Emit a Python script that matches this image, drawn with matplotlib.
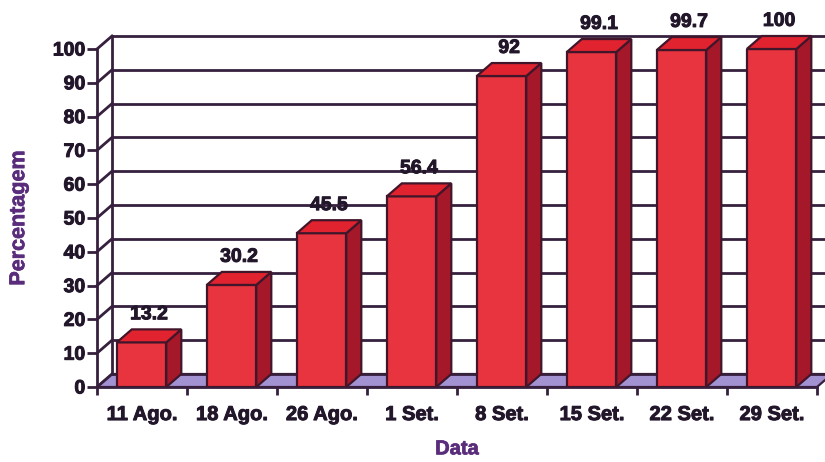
import matplotlib
matplotlib.use("Agg")
import matplotlib.pyplot as plt
from matplotlib.patches import Polygon
import matplotlib.patheffects as pe
import numpy as np

# ---- data ----
categories = ["11 Ago.", "18 Ago.", "26 Ago.", "1 Set.", "8 Set.", "15 Set.", "22 Set.", "29 Set."]
values = [13.2, 30.2, 45.5, 56.4, 92, 99.1, 99.7, 100]
value_labels = ["13.2", "30.2", "45.5", "56.4", "92", "99.1", "99.7", "100"]
yticks = list(range(0, 101, 10))

# ---- style ----
FONT = "Liberation Sans"
TXT = "#22162a"
LINE = "#36203e"
PURPLE = "#5a2d7c"
FRONT = "#e8343f"
SIDE = "#a5182a"
TOP = "#e0232e"
EDGE = "#42162a"
FLOOR = "#a292d2"
DX = 15 / 90.0      # depth offset in category units
DY = 13 / 3.38      # depth offset in value units
BAR_L, BAR_W = 0.22, 0.55
THICK = [pe.withStroke(linewidth=0.7, foreground=TXT)]
THICK_P = [pe.withStroke(linewidth=0.5, foreground=PURPLE)]

fig = plt.figure(figsize=(8.25, 4.62), dpi=100)
fig.patch.set_facecolor("white")
ax = fig.add_axes([97 / 825, (462 - 387) / 462, 720 / 825, 338 / 462])
ax.set_facecolor("none")
n = len(categories)
ax.set_xlim(0, n)
ax.set_ylim(0, 100)

# floor
ax.add_patch(Polygon([(0, 0), (n, 0), (n + DX, DY), (DX, DY)], closed=True,
                     facecolor=FLOOR, edgecolor=LINE, lw=1.6, zorder=1, clip_on=False))

# back wall gridlines and left wall diagonals
for t in yticks:
    ax.plot([DX, n + DX], [t + DY, t + DY], color=LINE, lw=2.0, zorder=1.5, clip_on=False,
            solid_capstyle="butt")
    ax.plot([0, DX], [t, t + DY], color=LINE, lw=2.0, zorder=1.5, clip_on=False)
ax.plot([DX, DX], [DY, 100 + DY], color=LINE, lw=2.0, zorder=1.5, clip_on=False)

# bars
xs = np.arange(n) + BAR_L + BAR_W / 2
ax.bar(xs, values, width=BAR_W, color=FRONT, edgecolor=EDGE, linewidth=1.6, zorder=3)
for i, v in enumerate(values):
    x0 = i + BAR_L
    x1 = x0 + BAR_W
    ax.add_patch(Polygon([(x1, 0), (x1 + DX, DY), (x1 + DX, v + DY), (x1, v)], closed=True,
                         facecolor=SIDE, edgecolor=EDGE, lw=1.6, zorder=3, clip_on=False))
    ax.add_patch(Polygon([(x0, v), (x1, v), (x1 + DX, v + DY), (x0 + DX, v + DY)], closed=True,
                         facecolor=TOP, edgecolor=EDGE, lw=1.6, zorder=3, clip_on=False))
    ax.annotate(value_labels[i], xy=(xs[i] + DX / 2, v + DY), xytext=(0, 10.5),
                textcoords="offset points", ha="center", va="center",
                fontsize=14, fontweight="bold", family=FONT, color=TXT, zorder=5,
                annotation_clip=False, path_effects=THICK)

# axes, ticks
for s in ["top", "right"]:
    ax.spines[s].set_visible(False)
for s in ["left", "bottom"]:
    ax.spines[s].set_color(LINE)
    ax.spines[s].set_linewidth(2.0)
    ax.spines[s].set_zorder(2)

ax.set_yticks(yticks)
ax.set_yticklabels([str(t) for t in yticks], fontsize=14, fontweight="bold",
                   family=FONT, color=TXT)
ax.tick_params(axis="y", length=7, width=2.0, color=LINE, pad=1.5)

ax.set_xticks(np.arange(n) + 0.5)
ax.set_xticklabels(categories, fontsize=14.5, fontweight="bold", family=FONT, color=TXT)
ax.set_xticks(np.arange(n + 1), minor=True)
ax.tick_params(axis="x", which="major", length=0, pad=13)
ax.tick_params(axis="x", which="minor", length=6, width=2.0, color=LINE)

for lab in ax.get_xticklabels() + ax.get_yticklabels():
    lab.set_path_effects(THICK)

ax.set_ylabel("Percentagem", fontsize=15.5, fontweight="bold", family=FONT, color=PURPLE,
              labelpad=17, path_effects=THICK_P)
ax.set_xlabel("Data", fontsize=14.5, fontweight="bold", family=FONT, color=PURPLE,
              labelpad=11, path_effects=THICK_P)

fig.savefig("out.png", dpi=100, facecolor="white")
